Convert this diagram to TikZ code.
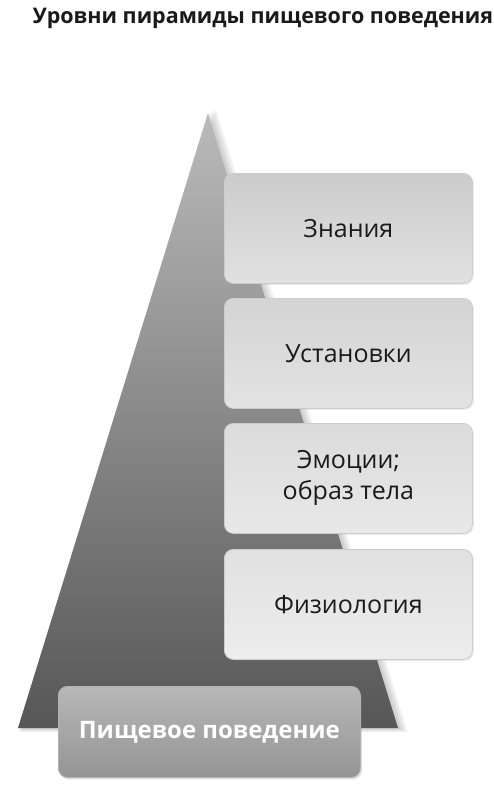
\documentclass[tikz,border=0pt]{standalone}
\usepackage{fontspec}
\setmainfont{Open Sans}
\usetikzlibrary{shadows}
\definecolor{txt}{HTML}{1A1A1A}
\tikzset{
  lvl/.style={draw=black!20, line width=0.8pt, rounded corners=9pt, minimum width=248pt, minimum height=110pt,
    anchor=north west, font=\fontsize{25}{31}\selectfont, text=txt, align=center,
    drop shadow={opacity=0.15, shadow xshift=1.5pt, shadow yshift=-1.5pt}},
  basebox/.style={draw=black!30, line width=0.8pt, rounded corners=9pt, minimum width=302pt, minimum height=91pt,
    anchor=north west, font=\bfseries\fontsize{24}{30}\selectfont, text=white,
    top color=black!28, bottom color=black!42,
    drop shadow={opacity=0.25, shadow xshift=1.5pt, shadow yshift=-2pt}},
  pshadow/.style={fill=black, opacity=0.05},
}
\begin{document}
\begin{tikzpicture}[x=1pt,y=-1pt]
\useasboundingbox (0,0) rectangle (493,795);
\node[font=\bfseries\fontsize{21.5}{26}\selectfont, text=txt] (title) at (263,18) {Уровни пирамиды пищевого поведения};
% pyramid soft shadow
\foreach \d in {2,4,6,8}{
  \fill[pshadow] (208+\d,113-\d/2) -- (398+\d*1.2,728+\d/2) -- (18+\d/3,728+\d/2) -- cycle;
}
\shade[top color=black!27, bottom color=black!66] (208,113) -- (398,728) -- (18,728) -- cycle;
\node[lvl, top color=black!20, bottom color=black!12] (k) at (224,173) {Знания};
\node[lvl, top color=black!17, bottom color=black!11] (u) at (224,298) {Установки};
\node[lvl, top color=black!14, bottom color=black!9] (e) at (224,423) {Эмоции;\\образ тела};
\node[lvl, top color=black!12, bottom color=black!7] (f) at (224,549) {Физиология};
\node[basebox] (b) at (58,686) {Пищевое поведение};
\end{tikzpicture}
\end{document}
